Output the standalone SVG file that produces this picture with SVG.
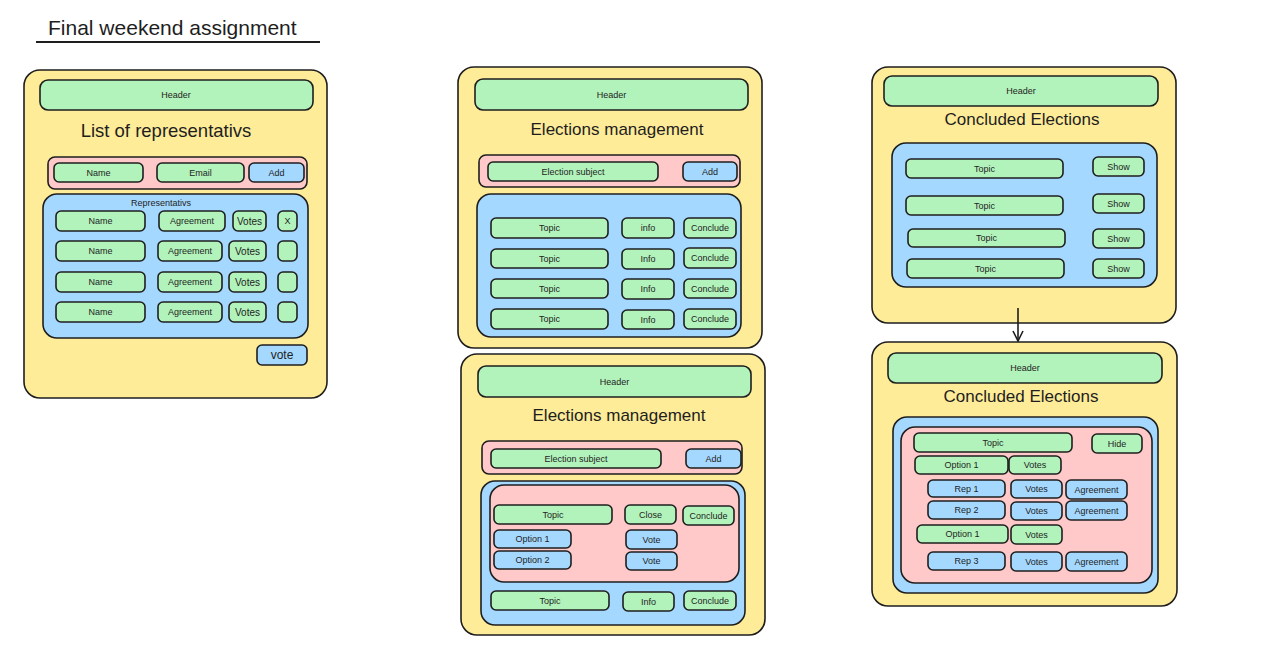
<svg xmlns="http://www.w3.org/2000/svg" width="1270" height="660" viewBox="0 0 1270 660">
<defs>
<style>
rect{stroke:#1e1e1e;stroke-width:1.6}
.bg{fill:#ffffff;stroke:none}
.y{fill:#ffec99}.g{fill:#b2f2bb}.b{fill:#a5d8ff}.p{fill:#ffc9c9}
text{font-family:"Liberation Sans","DejaVu Sans",sans-serif;fill:#1e1e1e;text-anchor:middle;dominant-baseline:central}
.s{font-size:9px}.m{font-size:10px}.l{font-size:12px}.t{font-size:17px}.t2{font-size:18.5px}.h{font-size:21px;text-anchor:start}
.c{stroke:#1e1e1e;stroke-width:1.6;fill:none}
</style>
<marker id="ah" viewBox="0 0 12 12" refX="11" refY="6" markerWidth="12" markerHeight="12" markerUnits="userSpaceOnUse" orient="auto">
<path d="M1,1 L11,6 L1,11" fill="none" stroke="#1e1e1e" stroke-width="1.6"/>
</marker>
</defs>
<rect class="bg" x="0" y="0" width="1270" height="660"/>

<g id="title">
<text class="h" x="48" y="27">Final weekend assignment</text>
<line x1="36" y1="42" x2="320" y2="42" stroke="#1e1e1e" stroke-width="2"/>
</g>

<!-- Screen 1 -->
<g id="screen1">
<rect class="y" x="24" y="70" width="303" height="328" rx="16"/>
<text class="t2" x="166" y="130">List of representativs</text>
</g>
<g id="s1-header"><rect class="g" x="40" y="80" width="273" height="30" rx="8"/><text class="s" x="176" y="95">Header</text></g>
<g id="s1-form"><rect class="p" x="48" y="157" width="259" height="32" rx="7"/></g>
<g id="s1-name"><rect class="g" x="54" y="163" width="89" height="19" rx="5"/><text class="s" x="98.5" y="172.5">Name</text></g>
<g id="s1-email"><rect class="g" x="157" y="163" width="87" height="19" rx="5"/><text class="s" x="200.5" y="172.5">Email</text></g>
<g id="s1-add"><rect class="b" x="249" y="163" width="55" height="19" rx="5"/><text class="s" x="276.5" y="172.5">Add</text></g>
<g id="s1-list"><rect class="b" x="43" y="194" width="265" height="144" rx="14"/><text class="s" x="161" y="203">Representativs</text></g>
<g id="s1-r1-name"><rect class="g" x="56" y="211" width="89" height="20" rx="5"/><text class="s" x="100.5" y="221">Name</text></g>
<g id="s1-r1-agr"><rect class="g" x="159" y="211" width="66" height="20" rx="5"/><text class="s" x="192" y="221">Agreement</text></g>
<g id="s1-r1-votes"><rect class="g" x="233" y="211" width="33" height="20" rx="5"/><text class="m" x="249.5" y="221">Votes</text></g>
<g id="s1-r1-x"><rect class="g" x="278" y="211" width="19" height="20" rx="5"/><text class="s" x="287.5" y="221">X</text></g>
<g id="s1-r2-name"><rect class="g" x="56" y="241" width="89" height="20" rx="5"/><text class="s" x="100.5" y="251">Name</text></g>
<g id="s1-r2-agr"><rect class="g" x="158" y="241" width="64" height="20" rx="5"/><text class="s" x="190" y="251">Agreement</text></g>
<g id="s1-r2-votes"><rect class="g" x="229" y="241" width="37" height="20" rx="5"/><text class="m" x="247.5" y="251">Votes</text></g>
<g id="s1-r2-x"><rect class="g" x="278" y="241" width="19" height="20" rx="5"/></g>
<g id="s1-r3-name"><rect class="g" x="56" y="272" width="89" height="20" rx="5"/><text class="s" x="100.5" y="282">Name</text></g>
<g id="s1-r3-agr"><rect class="g" x="158" y="272" width="64" height="20" rx="5"/><text class="s" x="190" y="282">Agreement</text></g>
<g id="s1-r3-votes"><rect class="g" x="229" y="272" width="37" height="20" rx="5"/><text class="m" x="247.5" y="282">Votes</text></g>
<g id="s1-r3-x"><rect class="g" x="278" y="272" width="19" height="20" rx="5"/></g>
<g id="s1-r4-name"><rect class="g" x="56" y="302" width="89" height="20" rx="5"/><text class="s" x="100.5" y="312">Name</text></g>
<g id="s1-r4-agr"><rect class="g" x="158" y="302" width="64" height="20" rx="5"/><text class="s" x="190" y="312">Agreement</text></g>
<g id="s1-r4-votes"><rect class="g" x="229" y="302" width="37" height="20" rx="5"/><text class="m" x="247.5" y="312">Votes</text></g>
<g id="s1-r4-x"><rect class="g" x="278" y="302" width="19" height="20" rx="5"/></g>
<g id="s1-vote"><rect class="b" x="257" y="345" width="50" height="20" rx="5"/><text class="l" x="282" y="355">vote</text></g>

<!-- Screen 2 -->
<g id="screen2">
<rect class="y" x="458" y="67" width="304" height="281" rx="16"/>
<text class="t" x="617" y="129">Elections management</text>
</g>
<g id="s2-header"><rect class="g" x="475" y="79" width="273" height="31" rx="8"/><text class="s" x="611.5" y="94.5">Header</text></g>
<g id="s2-form"><rect class="p" x="479" y="155" width="261" height="32" rx="7"/></g>
<g id="s2-subject"><rect class="g" x="488" y="162" width="170" height="19" rx="5"/><text class="s" x="573" y="171.5">Election subject</text></g>
<g id="s2-add"><rect class="b" x="683" y="162" width="54" height="19" rx="5"/><text class="s" x="710" y="171.5">Add</text></g>
<g id="s2-list"><rect class="b" x="477" y="194" width="264" height="143" rx="14"/></g>
<g id="s2-r1-topic"><rect class="g" x="491" y="218" width="117" height="20" rx="5"/><text class="s" x="549.5" y="228">Topic</text></g>
<g id="s2-r1-info"><rect class="g" x="622" y="218" width="52" height="20" rx="5"/><text class="s" x="648" y="228">info</text></g>
<g id="s2-r1-conc"><rect class="g" x="684" y="218" width="52" height="20" rx="5"/><text class="s" x="710" y="228">Conclude</text></g>
<g id="s2-r2-topic"><rect class="g" x="491" y="249" width="117" height="19" rx="5"/><text class="s" x="549.5" y="258.5">Topic</text></g>
<g id="s2-r2-info"><rect class="g" x="622" y="249" width="52" height="20" rx="5"/><text class="s" x="648" y="259">Info</text></g>
<g id="s2-r2-conc"><rect class="g" x="684" y="248" width="52" height="20" rx="5"/><text class="s" x="710" y="258">Conclude</text></g>
<g id="s2-r3-topic"><rect class="g" x="491" y="279" width="117" height="19" rx="5"/><text class="s" x="549.5" y="288.5">Topic</text></g>
<g id="s2-r3-info"><rect class="g" x="622" y="279" width="52" height="20" rx="5"/><text class="s" x="648" y="289">Info</text></g>
<g id="s2-r3-conc"><rect class="g" x="684" y="279" width="52" height="19" rx="5"/><text class="s" x="710" y="288.5">Conclude</text></g>
<g id="s2-r4-topic"><rect class="g" x="491" y="309" width="117" height="20" rx="5"/><text class="s" x="549.5" y="319">Topic</text></g>
<g id="s2-r4-info"><rect class="g" x="622" y="310" width="52" height="19" rx="5"/><text class="s" x="648" y="319.5">Info</text></g>
<g id="s2-r4-conc"><rect class="g" x="684" y="309" width="52" height="20" rx="5"/><text class="s" x="710" y="319">Conclude</text></g>

<!-- Screen 3 -->
<g id="screen3">
<rect class="y" x="461" y="354" width="304" height="281" rx="16"/>
<text class="t" x="619" y="415">Elections management</text>
</g>
<g id="s3-header"><rect class="g" x="478" y="366" width="273" height="31" rx="8"/><text class="s" x="614.5" y="381.5">Header</text></g>
<g id="s3-form"><rect class="p" x="482" y="441" width="260" height="33" rx="7"/></g>
<g id="s3-subject"><rect class="g" x="491" y="449" width="170" height="19" rx="5"/><text class="s" x="576" y="458.5">Election subject</text></g>
<g id="s3-add"><rect class="b" x="686" y="449" width="55" height="19" rx="5"/><text class="s" x="713.5" y="458.5">Add</text></g>
<g id="s3-list"><rect class="b" x="481" y="481" width="264" height="144" rx="14"/></g>
<g id="s3-open"><rect class="p" x="490" y="485" width="249" height="97" rx="14"/></g>
<g id="s3-topic"><rect class="g" x="494" y="505" width="118" height="19" rx="5"/><text class="s" x="553" y="514.5">Topic</text></g>
<g id="s3-close"><rect class="g" x="625" y="505" width="51" height="19" rx="5"/><text class="s" x="650.5" y="514.5">Close</text></g>
<g id="s3-conc"><rect class="g" x="683" y="506" width="51" height="19" rx="5"/><text class="s" x="708.5" y="515.5">Conclude</text></g>
<g id="s3-opt1"><rect class="b" x="494" y="530" width="77" height="18" rx="5"/><text class="s" x="532.5" y="539">Option 1</text></g>
<g id="s3-opt2"><rect class="b" x="494" y="551" width="77" height="18" rx="5"/><text class="s" x="532.5" y="560">Option 2</text></g>
<g id="s3-vote1"><rect class="b" x="626" y="530" width="51" height="19" rx="5"/><text class="s" x="651.5" y="539.5">Vote</text></g>
<g id="s3-vote2"><rect class="b" x="626" y="552" width="51" height="18" rx="5"/><text class="s" x="651.5" y="561">Vote</text></g>
<g id="s3-r2-topic"><rect class="g" x="491" y="591" width="118" height="19" rx="5"/><text class="s" x="550" y="600.5">Topic</text></g>
<g id="s3-r2-info"><rect class="g" x="623" y="592" width="51" height="19" rx="5"/><text class="s" x="648.5" y="601.5">Info</text></g>
<g id="s3-r2-conc"><rect class="g" x="684" y="591" width="52" height="19" rx="5"/><text class="s" x="710" y="600.5">Conclude</text></g>

<!-- Screen 4 -->
<g id="screen4">
<rect class="y" x="872" y="67" width="304" height="256" rx="16"/>
<text class="t" x="1022" y="119">Concluded Elections</text>
</g>
<g id="s4-header"><rect class="g" x="884" y="76" width="274" height="30" rx="8"/><text class="s" x="1021" y="91">Header</text></g>
<g id="s4-list"><rect class="b" x="892" y="143" width="265" height="144" rx="14"/></g>
<g id="s4-r1-topic"><rect class="g" x="906" y="159" width="157" height="19" rx="5"/><text class="s" x="984.5" y="168.5">Topic</text></g>
<g id="s4-r1-show"><rect class="g" x="1093" y="157" width="51" height="19" rx="5"/><text class="s" x="1118.5" y="166.5">Show</text></g>
<g id="s4-r2-topic"><rect class="g" x="906" y="196" width="157" height="19" rx="5"/><text class="s" x="984.5" y="205.5">Topic</text></g>
<g id="s4-r2-show"><rect class="g" x="1093" y="194" width="51" height="19" rx="5"/><text class="s" x="1118.5" y="203.5">Show</text></g>
<g id="s4-r3-topic"><rect class="g" x="908" y="229" width="157" height="18" rx="5"/><text class="s" x="986.5" y="238">Topic</text></g>
<g id="s4-r3-show"><rect class="g" x="1093" y="229" width="51" height="19" rx="5"/><text class="s" x="1118.5" y="238.5">Show</text></g>
<g id="s4-r4-topic"><rect class="g" x="907" y="259" width="157" height="19" rx="5"/><text class="s" x="985.5" y="268.5">Topic</text></g>
<g id="s4-r4-show"><rect class="g" x="1093" y="259" width="51" height="19" rx="5"/><text class="s" x="1118.5" y="268.5">Show</text></g>

<!-- Screen 5 -->
<g id="screen5">
<rect class="y" x="872" y="342" width="305" height="264" rx="16"/>
<text class="t" x="1021" y="396">Concluded Elections</text>
</g>
<g id="s5-header"><rect class="g" x="888" y="353" width="274" height="30" rx="8"/><text class="s" x="1025" y="368">Header</text></g>
<g id="s5-list"><rect class="b" x="893" y="417" width="265" height="176" rx="14"/></g>
<g id="s5-open"><rect class="p" x="901" y="427" width="251" height="156" rx="14"/></g>
<g id="s5-topic"><rect class="g" x="914" y="433" width="158" height="19" rx="5"/><text class="s" x="993" y="442.5">Topic</text></g>
<g id="s5-hide"><rect class="g" x="1092" y="434" width="50" height="19" rx="5"/><text class="s" x="1117" y="443.5">Hide</text></g>
<g id="s5-opt1"><rect class="g" x="915" y="456" width="93" height="18" rx="5"/><text class="s" x="961.5" y="465">Option 1</text></g>
<g id="s5-opt1-votes"><rect class="g" x="1009" y="456" width="52" height="18" rx="5"/><text class="s" x="1035" y="465">Votes</text></g>
<g id="s5-rep1"><rect class="b" x="928" y="480" width="77" height="17" rx="5"/><text class="s" x="966.5" y="488.5">Rep 1</text></g>
<g id="s5-rep1-votes"><rect class="b" x="1011" y="480" width="51" height="18" rx="5"/><text class="s" x="1036.5" y="489">Votes</text></g>
<g id="s5-rep1-agr"><rect class="b" x="1066" y="480" width="61" height="19" rx="5"/><text class="s" x="1096.5" y="489.5">Agreement</text></g>
<g id="s5-rep2"><rect class="b" x="928" y="501" width="77" height="18" rx="5"/><text class="s" x="966.5" y="510">Rep 2</text></g>
<g id="s5-rep2-votes"><rect class="b" x="1011" y="502" width="51" height="18" rx="5"/><text class="s" x="1036.5" y="511">Votes</text></g>
<g id="s5-rep2-agr"><rect class="b" x="1066" y="501" width="61" height="19" rx="5"/><text class="s" x="1096.5" y="510.5">Agreement</text></g>
<g id="s5-opt2"><rect class="g" x="917" y="525" width="91" height="18" rx="5"/><text class="s" x="962.5" y="534">Option 1</text></g>
<g id="s5-opt2-votes"><rect class="g" x="1011" y="525" width="51" height="19" rx="5"/><text class="s" x="1036.5" y="534.5">Votes</text></g>
<g id="s5-rep3"><rect class="b" x="928" y="552" width="77" height="18" rx="5"/><text class="s" x="966.5" y="561">Rep 3</text></g>
<g id="s5-rep3-votes"><rect class="b" x="1011" y="552" width="51" height="19" rx="5"/><text class="s" x="1036.5" y="561.5">Votes</text></g>
<g id="s5-rep3-agr"><rect class="b" x="1066" y="552" width="61" height="19" rx="5"/><text class="s" x="1096.5" y="561.5">Agreement</text></g>

<g id="connectors">
<line class="c" x1="1018" y1="308" x2="1018" y2="341" marker-end="url(#ah)"/>
</g>
</svg>
